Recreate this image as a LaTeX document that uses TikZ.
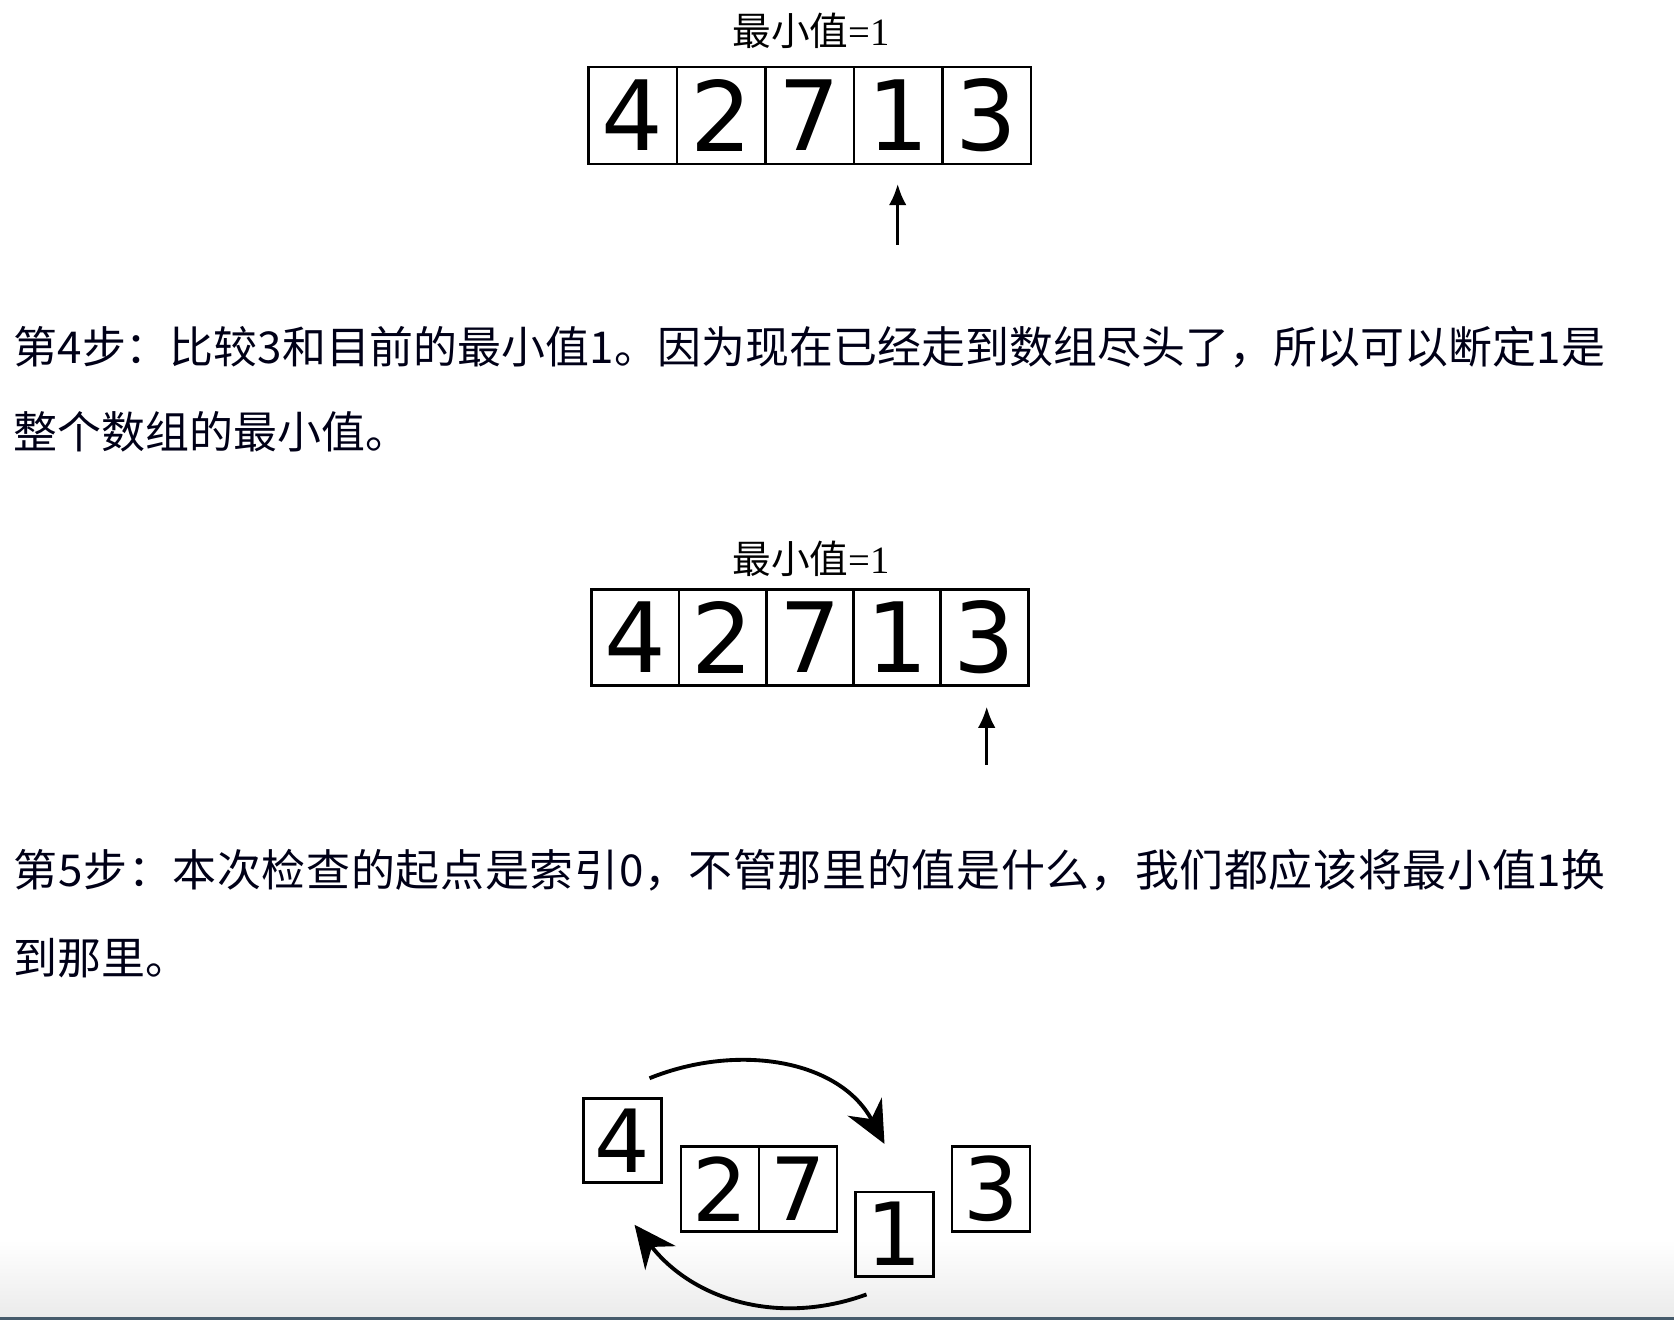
\documentclass[tikz,border=0pt]{standalone}
\usepackage{fontspec}
\setmainfont{Liberation Serif}
\newfontfamily\cjk{Noto Sans CJK SC}
\newfontfamily\cjkwide[LetterSpace=1.6]{Noto Sans CJK SC}
\newfontfamily\digits{DejaVu Sans}
\usetikzlibrary{arrows.meta,positioning}
\definecolor{barcol}{HTML}{455A6B}
\tikzset{
  cell/.style={draw, line width=0.8pt, inner sep=0pt, outer sep=0pt,
    minimum width=0.885cm, minimum height=0.97cm,
    font=\digits\fontsize{27.6}{28}\selectfont},
  narrowcell/.style={cell, minimum width=0.873cm, minimum height=0.964cm},
  smallcell/.style={cell, minimum width=0.78cm, minimum height=0.845cm,
    font=\digits\fontsize{24.8}{25}\selectfont},
  minlabel/.style={font=\fontsize{11}{12}\selectfont},
  para/.style={anchor=west, inner sep=0pt, text=black!85!blue!60!black,
    font=\cjk\fontsize{12.5}{14}\selectfont},
  pointer/.style={-{Latex[length=6pt,width=5pt]}, line width=0.8pt},
  swap/.style={-{Stealth[length=12pt,width=11pt,inset=4pt]}, line width=1.1pt}
}
\begin{document}
\begin{tikzpicture}
\useasboundingbox (0,0) rectangle (16.74,-13.2);
% screen bottom
\shade[top color=white, bottom color=black!8] (0,-12.4) rectangle (16.74,-13.17);
\fill[barcol] (0,-13.17) rectangle (16.74,-13.2);

% step 4 array
\node[minlabel] (lab1) at (8.11,-0.31) {{\cjk 最小值}=1};
\node[cell] (a1) at (6.327,-1.155) {4};
\node[cell, right=0pt of a1] (a2) {2};
\node[cell, right=0pt of a2] (a3) {7};
\node[cell, right=0pt of a3] (a4) {1};
\node[cell, right=0pt of a4] (a5) {3};
\coordinate (p1) at (8.977,-2.45);
\draw [pointer] (p1) -- ([yshift=-0.2cm]p1 |- a4.south);

\node[para] (t1) at (0.13,-3.47) {第4步：比较3和目前的最小值1。因为现在已经走到数组尽头了，所以可以断定1是};
\node[para] (t2) at (0.13,-4.32) {整个数组的最小值。};

% step 5 array
\node[minlabel] (lab2) at (8.11,-5.59) {{\cjk 最小值}=1};
\node[narrowcell] (b1) at (6.353,-6.375) {4};
\node[narrowcell, right=0pt of b1] (b2) {2};
\node[narrowcell, right=0pt of b2] (b3) {7};
\node[narrowcell, right=0pt of b3] (b4) {1};
\node[narrowcell, right=0pt of b4] (b5) {3};
\coordinate (p2) at (9.867,-7.65);
\draw [pointer] (p2) -- ([yshift=-0.21cm]p2 |- b5.south);

\node[para, font=\cjkwide\fontsize{12.5}{14}\selectfont] (t3) at (0.13,-8.70) {第5步：本次检查的起点是索引0，不管那里的值是什么，我们都应该将最小值1换};
\node[para] (t4) at (0.13,-9.58) {到那里。};

% swap
\node[smallcell] (c1) at (6.225,-11.405) {4};
\node[smallcell] (c2) at (7.199,-11.889) {2};
\node[smallcell, right=0pt of c2] (c3) {7};
\node[smallcell] (c4) at (8.945,-12.342) {1};
\node[smallcell] (c5) at (9.909,-11.889) {3};
\coordinate (s1) at ([shift={(-0.12,0.20)}]c1.north east);
\coordinate (e1) at ([shift={(-0.10,0.48)}]c4.north);
\coordinate (s2) at ([shift={(0.11,-0.18)}]c4.south west);
\coordinate (e2) at ([shift={(0.12,-0.42)}]c1.south);
\draw [swap] (s1) to[out=22, in=118] (e1);
\draw [swap] (s2) to[out=200, in=-52] (e2);
\end{tikzpicture}
\end{document}
